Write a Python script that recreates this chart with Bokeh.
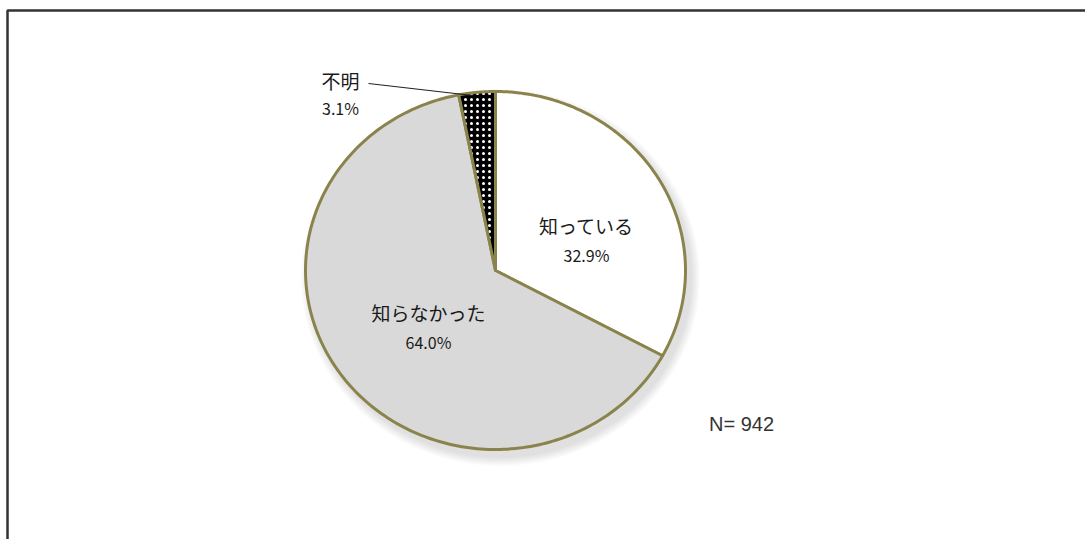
import numpy as np
from bokeh.plotting import figure
from bokeh.models import Range1d, ColumnDataSource
from bokeh.core.properties import value
from bokeh.embed import file_html
from bokeh.resources import INLINE

# ---- data ----
categories = ["知っている", "知らなかった", "不明"]
percents = [32.9, 64.0, 3.1]
pct_labels = ["32.9%", "64.0%", "3.1%"]
sample_label = "N= 942"

# ---- styles / layout ----
fill_colors = ["#FFFFFF", "#D9D9D9", "#000000"]
edge_color = "#8A844C"
W, H = 1085, 539
CX, CY, RX, RY = 495, 270, 190, 179
label_pos = {"知っている": (586, 225, 254), "知らなかった": (428, 312, 341), "不明": (340, 80, 107)}
JP = value("Noto Sans CJK JP")

p = figure(width=W, height=H, x_range=Range1d(0, W), y_range=Range1d(H, 0),
           output_backend="svg", toolbar_location=None, min_border=0)
p.axis.visible = False
p.grid.visible = False
p.outline_line_color = None
p.background_fill_color = "white"
p.border_fill_color = "white"

# frame
p.line(x=[7, 7, W + 5], y=[H + 5, 10, 10], line_color="#333333", line_width=2.5)


def ellipse_pts(t0, t1, rx, ry, cx, cy, n=200):
    t = np.radians(np.linspace(t0, t1, n))
    return cx + rx * np.cos(t), cy - ry * np.sin(t)

# soft shadow
for k in range(8):
    xs, ys = ellipse_pts(0, 360, RX + 1 + k * 1.2, RY + 1 + k * 1.2, CX + 5, CY + 7)
    p.patch(xs, ys, fill_color="#888888", fill_alpha=0.035, line_color=None)

# slices
starts = 90 - np.concatenate([[0], np.cumsum(percents)[:-1]]) * 3.6
ends = starts - np.array(percents) * 3.6
for i, cat in enumerate(categories):
    ax, ay = ellipse_pts(starts[i], ends[i], RX, RY, CX, CY)
    xs = np.concatenate([[CX], ax, [CX]])
    ys = np.concatenate([[CY], ay, [CY]])
    kw = dict(fill_color=fill_colors[i], line_color=edge_color, line_width=3, line_join="round")
    if cat == "不明":
        kw.update(hatch_pattern="dot", hatch_color="white", hatch_scale=6, hatch_weight=2)
    p.patch(xs, ys, **kw)

# leader line for 不明
p.line(x=[368, 472], y=[83, 95], line_color="#222222", line_width=1.2)

# labels
names = [c for c in categories]
src = ColumnDataSource(dict(
    x=[label_pos[c][0] for c in names],
    y=[label_pos[c][1] for c in names],
    t=names))
p.text(x="x", y="y", text="t", source=src, text_font=JP, text_font_size="19px",
       text_color="#1a1a1a", text_align="center", text_baseline="middle")
src2 = ColumnDataSource(dict(
    x=[label_pos[c][0] for c in names],
    y=[label_pos[c][2] for c in names],
    t=pct_labels))
p.text(x="x", y="y", text="t", source=src2, text_font=JP, text_font_size="16px",
       text_color="#1a1a1a", text_align="center", text_baseline="middle")

p.text(x=[741], y=[423], text=[sample_label], text_font=value("Liberation Sans"),
       text_font_size="20px", text_color="#333333", text_align="center", text_baseline="middle")

open("out.html", "w").write(file_html(p, INLINE))
